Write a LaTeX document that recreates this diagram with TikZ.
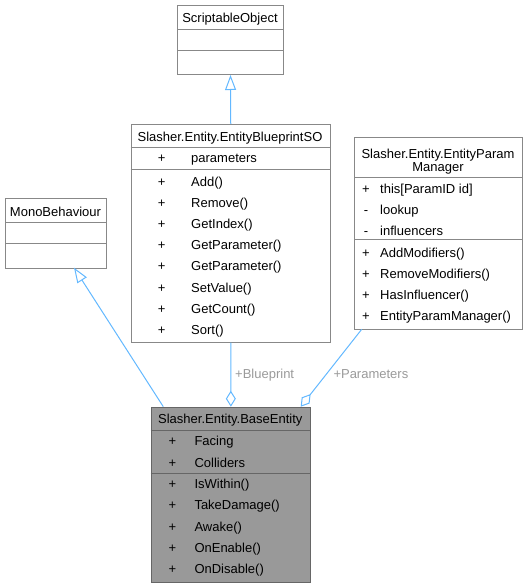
\documentclass[tikz,border=0pt]{standalone}
\usepackage{fontspec}
\setmainfont{Liberation Sans}
\usepackage{xcolor}
\usetikzlibrary{arrows.meta}

\definecolor{boxgray}{HTML}{888888}
\definecolor{curgray}{HTML}{999999}
\definecolor{curedge}{HTML}{666666}
\definecolor{edgeblue}{HTML}{63B8FF}
\definecolor{labelgray}{HTML}{9A9A9A}

\begin{document}
\begin{tikzpicture}[x=1pt,y=-1pt,
    every node/.style={font=\fontsize{13}{15}\selectfont},
    classbox/.style={draw=boxgray, fill=white, line width=1pt, inner sep=0pt, anchor=north west},
    divider/.style={draw=boxgray, line width=1pt},
    member/.style={anchor=base west, inner sep=0pt},
    vis/.style={anchor=base, inner sep=0pt},
    title/.style={anchor=base, inner sep=0pt},
    inherit/.style={draw=edgeblue, line width=1pt, -{Triangle[open, length=15pt, width=11pt]}},
    aggreg/.style={draw=edgeblue, line width=1pt, -{Diamond[open, length=16pt, width=10pt]}},
    rolelabel/.style={anchor=base west, inner sep=0pt, text=labelgray}]

\useasboundingbox (0,0) rectangle (528,588);

% ScriptableObject
\node[classbox, minimum width=106pt, minimum height=69pt] (so) at (177,5) {};
\draw[divider] (177,29.3) -- (283,29.3);
\draw[divider] (177,50.7) -- (283,50.7);
\node[title] (sotitle) at (230,22.8) {ScriptableObject};

% MonoBehaviour
\node[classbox, minimum width=101pt, minimum height=69.4pt] (mono) at (5,198.3) {};
\draw[divider] (5,222.7) -- (106,222.7);
\draw[divider] (5,243.3) -- (106,243.3);
\node[title] (monotitle) at (55.5,216.2) {MonoBehaviour};

% Slasher.Entity.EntityBlueprintSO
\node[classbox, minimum width=199.5pt, minimum height=217.7pt] (eb) at (130.5,124) {};
\draw[divider] (130.5,147.5) -- (330,147.5);
\draw[divider] (130.5,169.3) -- (330,169.3);
\node[title] (ebtitle) at (230,141.8) {Slasher.Entity.EntityBlueprintSO};
\node[vis] (ebv0) at (161.7,162.8) {+};
\node[member] (eba0) at (191,162.8) {parameters};
\foreach \m [count=\i from 0] in {Add(), Remove(), GetIndex(), GetParameter(), GetParameter(), SetValue(), GetCount(), Sort()}{
  \node[vis] (ebv\i m) at (161.7,186.2+21.19*\i) {+};
  \node[member] (ebm\i) at (191,186.2+21.19*\i) {\m};
}

% Slasher.Entity.EntityParamManager
\node[classbox, minimum width=167.7pt, minimum height=192.6pt] (epm) at (354,136.7) {};
\draw[divider] (354,177.7) -- (521.7,177.7);
\draw[divider] (354,239) -- (521.7,239);
\node[title] (epmtitle1) at (438,158.5) {Slasher.Entity.EntityParam};
\node[title] (epmtitle2) at (438,171.8) {Manager};
\node[vis] (epmv0) at (366,193.5) {+};
\node[member] (epma0) at (380,193.5) {this[ParamID id]};
\node[vis] (epmv1) at (366,214.5) {-};
\node[member] (epma1) at (380,214.5) {lookup};
\node[vis] (epmv2) at (366,235.2) {-};
\node[member] (epma2) at (380,235.2) {influencers};
\foreach \m/\y [count=\i from 0] in {AddModifiers()/257.2, RemoveModifiers()/278.5, HasInfluencer()/299.5, EntityParamManager()/320.5}{
  \node[vis] (epmv\i m) at (366,\y) {+};
  \node[member] (epmm\i) at (380,\y) {\m};
}

% Slasher.Entity.BaseEntity (current class)
\node[classbox, draw=curedge, fill=curgray, minimum width=159.3pt, minimum height=175.6pt] (base) at (150.7,406.7) {};
\draw[divider, draw=curedge] (150.7,430) -- (310,430);
\draw[divider, draw=curedge] (150.7,473.3) -- (310,473.3);
\node[title] (basetitle) at (230.3,423.8) {Slasher.Entity.BaseEntity};
\node[vis] (basev0) at (172.3,445.5) {+};
\node[member] (basea0) at (194.3,445.5) {Facing};
\node[vis] (basev1) at (172.3,467.2) {+};
\node[member] (basea1) at (194.3,467.2) {Colliders};
\foreach \m [count=\i from 0] in {IsWithin(), TakeDamage(), Awake(), OnEnable(), OnDisable()}{
  \node[vis] (basev\i m) at (172.3,488.5+21.33*\i) {+};
  \node[member] (basem\i) at (194.3,488.5+21.33*\i) {\m};
}

% connector ends
\coordinate (monotip) at (74,267.7);
\coordinate (basetail) at (163.3,406.7);
\coordinate (epmtail) at (361.7,329.3);
\coordinate (basehead) at (300.7,406.7);

% generalisation
\draw[inherit] (eb.north) -- (so.south);
\draw[inherit] (basetail) -- (monotip);

% aggregation
\draw[aggreg] (eb.south) -- (base.north);
\draw[aggreg] (epmtail) -- (basehead);
\node[rolelabel] (bplabel) at (235,378.8) {+Blueprint};
\node[rolelabel] (prlabel) at (333.3,378.8) {+Parameters};

\end{tikzpicture}
\end{document}
